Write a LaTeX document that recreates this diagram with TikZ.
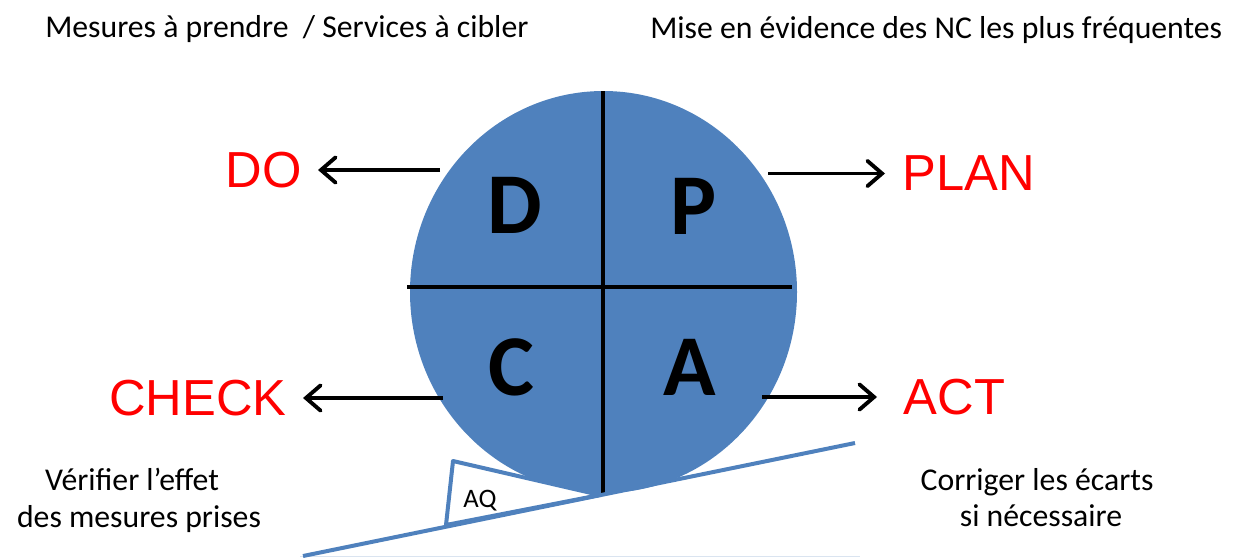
\documentclass[tikz,border=0pt]{standalone}
\usepackage{fontspec}
\setmainfont{Carlito}
\newfontfamily\phasefont{Liberation Sans}
\usetikzlibrary{arrows.meta,shapes.geometric}

\definecolor{wheelblue}{RGB}{79,129,189}
\definecolor{phasered}{RGB}{255,0,0}
\definecolor{rulegrey}{RGB}{218,228,240}

\begin{document}
\begin{tikzpicture}[x=0.75pt,y=-0.75pt,
		phase/.style={font=\phasefont\fontsize{38}{38}\selectfont, text=phasered, inner ysep=0pt},
		letter/.style={font=\bfseries\fontsize{65}{65}\selectfont, inner sep=0pt},
		note/.style={font=\fontsize{23.8}{28}\selectfont, inner sep=0pt},
		arr/.style={-{Straight Barb[length=11pt,width=19pt,line cap=round]}, line width=2.9pt},
		divider/.style={line width=3pt, black},
		slope/.style={line width=3pt, wheelblue}]
	\useasboundingbox (0,0) rectangle (1244,558);

	% the wheel
	\node [ellipse, fill=wheelblue, inner sep=0pt, minimum width=290.25pt, minimum height=301.5pt] (wheel) at (603.5,292) {};
	\draw [divider] (603,91) -- (603,493);
	\draw [divider] (407,287) -- (792,287);

	% ground and wedge
	\draw [rulegrey, line width=1.2pt] (300,556.5) -- (860,556.5);
	\filldraw [slope, fill=white, line join=round] (446,525) -- (453,461) -- (600,495) -- cycle;
	\draw [slope] (303,556) -- (855,443);
	\node [font=\fontsize{20}{20}\selectfont, inner sep=0pt, anchor=base] (aq) at (480,507) {AQ};

	% quadrant letters
	\node [letter] (qd) at (515,205) {D};
	\node [letter] (qp) at (694,206) {P};
	\node [letter] (qc) at (511,367) {C};
	\node [letter] (qa) at (690,367) {A};

	% phase labels
	\node [phase, anchor=east, inner xsep=12pt] (do) at (318,170) {DO};
	\node [phase, anchor=west, inner xsep=13pt] (plan) at (885,173.5) {PLAN};
	\node [phase, anchor=east, inner xsep=12pt] (check) at (303,398) {CHECK};
	\node [phase, anchor=west, inner xsep=20pt] (act) at (877,397) {ACT};

	% arrows out of the wheel
	\coordinate (dotail) at (440,170);
	\coordinate (plantail) at (768,173.5);
	\coordinate (checktail) at (443,398);
	\coordinate (acttail) at (762,397);
	\draw [arr] (dotail) -- (do);
	\draw [arr] (plantail) -- (plan);
	\draw [arr] (checktail) -- (check);
	\draw [arr] (acttail) -- (act);

	% notes
	\node [note, anchor=base west] (dotext) at (45,37) {Mesures à prendre \ / Services à cibler};
	\node [note, anchor=base west] (plantext) at (650,38) {Mise en évidence des NC les plus fréquentes};
	\node [note, anchor=base] (checktext1) at (132,490) {Vérifier l’effet};
	\node [note, anchor=base] (checktext2) at (139,527) {des mesures prises};
	\node [note, anchor=base] (acttext1) at (1037,490) {Corriger les écarts};
	\node [note, anchor=base] (acttext2) at (1041,526) {si nécessaire};
\end{tikzpicture}
\end{document}
